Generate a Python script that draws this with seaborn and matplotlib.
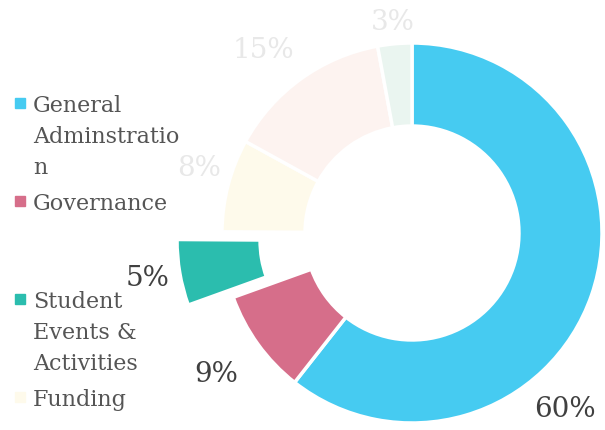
import matplotlib
matplotlib.use("Agg")
import matplotlib.pyplot as plt
from matplotlib.patches import Rectangle
import seaborn as sns
import numpy as np

# --- данные ---
categories = ["General Adminstration", "Governance", "Student Events & Activities",
              "Funding", "Other", "Misc"]
shares = [60.6, 8.9, 5.6, 7.9, 14.1, 2.9]
pct_labels = ["60%", "9%", "5%", "8%", "15%", "3%"]
legend_lines = [["General", "Adminstratio", "n"], ["Governance"],
                ["Student", "Events &", "Activities"], ["Funding"]]

colors = ["#46CBF1", "#D66E8A", "#2BBDAE", "#FEFAEB", "#FDF3F0", "#EAF5F0"]
label_colors = ["#404040", "#404040", "#404040", "#E8E8E8", "#E8E8E8", "#E8E8E8"]

W, H = 605, 430
cx, cy, R = 412, 233, 190

sns.set_theme(style="white")
plt.rcParams["font.family"] = ["DejaVu Serif"]

fig = plt.figure(figsize=(W / 100, H / 100), dpi=100)
ax = fig.add_axes([0, 0, 1, 1])
ax.set_aspect("equal")
ax.axis("off")

explode = [0, 0, 0.24, 0, 0, 0]
wedges, _ = ax.pie(shares, colors=colors, startangle=90, counterclock=False,
                   explode=explode, radius=1,
                   wedgeprops=dict(width=0.437, edgecolor="white", linewidth=2.5))
ax.set_xlim(-cx / R, (W - cx) / R)
ax.set_ylim(-(H - cy) / R, cy / R)

# подписи процентов снаружи кольца
angle_shift = [-30, 0, 0, -2.4, 3.3, 0]
dist = [1.23, 1.27, 1.17, 1.17, 1.24, 1.11]
for i, w in enumerate(wedges):
    mid = np.deg2rad((w.theta1 + w.theta2) / 2 + angle_shift[i])
    d = dist[i] + explode[i]
    ax.text(d * np.cos(mid), d * np.sin(mid), pct_labels[i], ha="center", va="center",
            fontsize=20, color=label_colors[i])

# легенда (строки фиксированной высоты)
for row, lines in enumerate(legend_lines):
    base = 112 + row * 98
    fig.patches.append(Rectangle((15 / W, 1 - 108 / H - row * 98 / H), 10 / W, 10 / H,
                                 transform=fig.transFigure, color=colors[row]))
    for j, line in enumerate(lines):
        fig.text(33 / W, 1 - (base + j * 31) / H, line, ha="left", va="baseline",
                 fontsize=16, color="#555555")

fig.savefig("out.png", dpi=100)
